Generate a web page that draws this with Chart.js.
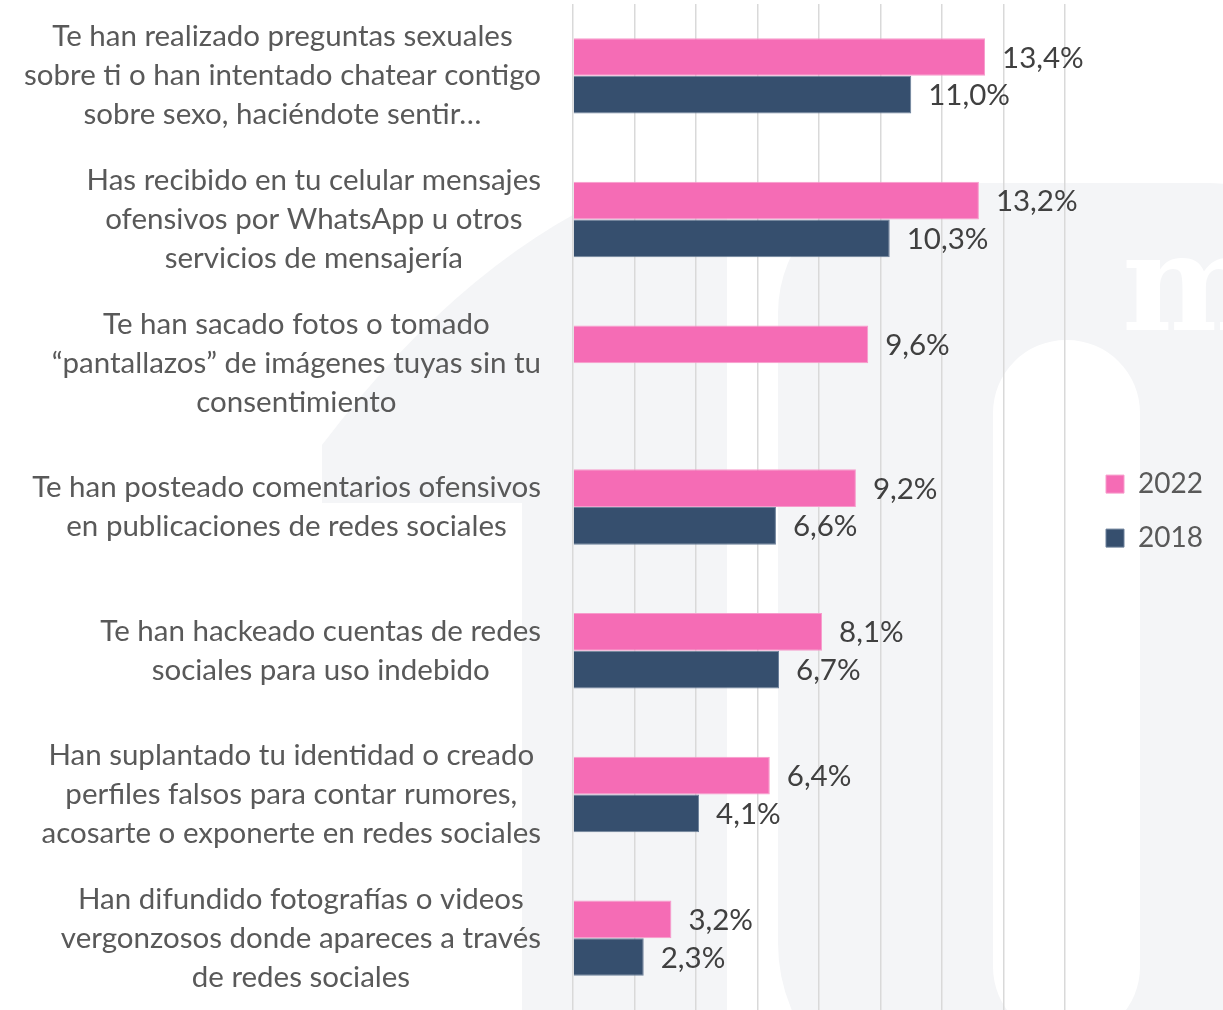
<!DOCTYPE html>
<html>
<head>
<meta charset="utf-8">
<script src="https://cdn.jsdelivr.net/npm/chart.js@4/dist/chart.umd.min.js"></script>
<style>
  html, body { margin: 0; padding: 0; background: #ffffff; overflow: hidden; }
  #box { width: 1223px; height: 1010px; }
  #chart { display: block; }
</style>
</head>
<body>
<div id="box"><canvas id="chart" width="1223" height="1010"></canvas></div>
<script>
// Survey items (each label split into its display lines)
const categories = [
  ["Te han realizado preguntas sexuales", "sobre ti o han intentado chatear contigo", "sobre sexo, haciéndote sentir…"],
  ["Has recibido en tu celular mensajes", "ofensivos por WhatsApp u otros", "servicios de mensajería"],
  ["Te han sacado fotos o tomado", "“pantallazos” de imágenes tuyas sin tu", "consentimiento"],
  ["Te han posteado comentarios ofensivos", "en publicaciones de redes sociales"],
  ["Te han hackeado cuentas de redes", "sociales para uso indebido"],
  ["Han suplantado tu identidad o creado", "perfiles falsos para contar rumores,", "acosarte o exponerte en redes sociales"],
  ["Han difundido fotografías o videos", "vergonzosos donde apareces a través", "de redes sociales"]
];
const seriesNames = ["2022", "2018"];
const values2022 = [13.4, 13.2, 9.6, 9.2, 8.1, 6.4, 3.2];
const values2018 = [11.0, 10.3, null, 6.6, 6.7, 4.1, 2.3];
const axisMin = 0;
const axisMax = 16;
const axisStep = 2;

const FONT = "Lato, 'Open Sans', sans-serif";
const FONT_SIZE = 29.5;
const LEGEND_FONT_SIZE = 28;
const PINK = "#f56cb5";
const NAVY = "#364f6e";

function fmtPct(v) {
  return v.toFixed(1).replace(".", ",") + "%";
}

// Faint "10m" logo drawn behind the plot
const watermark = {
  id: "watermark",
  beforeDraw(chart) {
    const ctx = chart.ctx;
    ctx.save();
    ctx.fillStyle = "#ffffff";
    ctx.fillRect(0, 0, chart.width, chart.height);
    ctx.fillStyle = "#f4f5f7";
    // the "1"
    ctx.beginPath();
    ctx.moveTo(322, 503);
    ctx.lineTo(322, 445);
    ctx.quadraticCurveTo(470, 250, 640, 183);
    ctx.lineTo(727, 183);
    ctx.lineTo(727, 1010);
    ctx.lineTo(522, 1010);
    ctx.lineTo(522, 503);
    ctx.closePath();
    ctx.fill();
    // the "0"
    ctx.beginPath();
    ctx.roundRect(778, 183, 560, 930, [130, 130, 170, 170]);
    ctx.roundRect(993, 340, 147, 700, 73);
    ctx.fill("evenodd");
    // the "m"
    ctx.fillStyle = "#ffffff";
    ctx.font = "bold 135px 'DejaVu Serif', serif";
    ctx.textBaseline = "alphabetic";
    ctx.fillText("m", 1122, 330);
    ctx.restore();
  }
};

// Let the legend box run to the canvas edge so its labels are not clipped
const legendRoom = {
  id: "legendRoom",
  afterLayout(chart) {
    const lg = chart.legend;
    if (!lg) return;
    lg.right = chart.width;
    lg.width = lg.right - lg.left;
  }
};

// Multi-line category labels: block right-aligned to the axis, lines centred within it
const categoryLabels = {
  id: "categoryLabels",
  afterDraw(chart) {
    const ctx = chart.ctx;
    const yScale = chart.scales.y;
    const right = chart.chartArea.left - 32;
    const lineH = 39;
    ctx.save();
    ctx.font = FONT_SIZE + "px " + FONT;
    ctx.fillStyle = "#595959";
    ctx.textAlign = "center";
    ctx.textBaseline = "middle";
    categories.forEach((lines, i) => {
      const yc = yScale.getPixelForValue(i);
      const w = Math.max(...lines.map(l => ctx.measureText(l).width));
      const xc = right - w / 2;
      lines.forEach((l, j) => {
        ctx.fillText(l, xc, yc + (j - (lines.length - 1) / 2) * lineH);
      });
    });
    ctx.restore();
  }
};

// Value labels at the end of each bar
const valueLabels = {
  id: "valueLabels",
  afterDatasetsDraw(chart) {
    const ctx = chart.ctx;
    ctx.save();
    ctx.font = FONT_SIZE + "px " + FONT;
    ctx.fillStyle = "#404040";
    ctx.textAlign = "left";
    ctx.textBaseline = "middle";
    chart.data.datasets.forEach((ds, di) => {
      const meta = chart.getDatasetMeta(di);
      meta.data.forEach((bar, i) => {
        const v = ds.data[i];
        if (v === null || v === undefined) return;
        ctx.fillText(fmtPct(v), bar.x + 17, bar.y + 1);
      });
    });
    ctx.restore();
  }
};

new Chart(document.getElementById("chart"), {
  type: "bar",
  data: {
    labels: categories,
    datasets: [
      { label: seriesNames[0], data: values2022, backgroundColor: PINK, borderColor: "#f79ccc", borderWidth: 1 },
      { label: seriesNames[1], data: values2018, backgroundColor: NAVY, borderColor: "#6d819b", borderWidth: 1 }
    ]
  },
  options: {
    indexAxis: "y",
    responsive: false,
    animation: false,
    devicePixelRatio: 1,
    layout: { padding: { left: 573, right: 40, top: 4, bottom: 0 } },
    datasets: { bar: { categoryPercentage: 0.525, barPercentage: 1 } },
    scales: {
      x: {
        min: axisMin, max: axisMax,
        ticks: { display: false, stepSize: axisStep },
        grid: { color: "#d9d9d9", lineWidth: 1.5, drawTicks: false },
        border: { display: false },
        afterFit(s) { s.height = 0; }
      },
      y: {
        ticks: { display: false },
        grid: { display: false, drawTicks: false },
        border: { display: false },
        afterFit(s) { s.width = 0; }
      },
      gap: {
        type: "linear",
        position: "right",
        ticks: { display: false },
        grid: { display: false, drawTicks: false },
        border: { display: false },
        afterFit(s) { s.width = 15; }
      }
    },
    plugins: {
      tooltip: { enabled: false },
      legend: {
        position: "right",
        align: "center",
        maxWidth: 103,
        title: { display: true, text: "", font: { size: 1 }, padding: { top: 7, bottom: 0 } },
        labels: {
          boxWidth: 18,
          boxHeight: 18,
          padding: 26,
          color: "#595959",
          font: { family: FONT, size: LEGEND_FONT_SIZE }
        }
      }
    }
  },
  plugins: [watermark, legendRoom, categoryLabels, valueLabels]
});
</script>
</body>
</html>
